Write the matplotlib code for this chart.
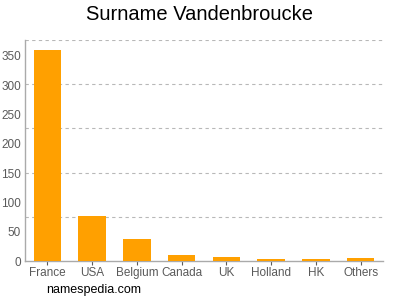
import matplotlib
matplotlib.use("Agg")
import matplotlib.pyplot as plt

plt.rcParams["font.family"] = ["Liberation Sans", "DejaVu Sans"]

countries = ["France", "USA", "Belgium", "Canada", "UK", "Holland", "HK", "Others"]
counts = [360, 77, 37, 11, 7, 4, 3, 5]
yticks = [0, 50, 100, 150, 200, 250, 300, 350]
grid_levels = [75.4, 150.8, 226.2, 301.6, 377]

fig = plt.figure(figsize=(4, 3), dpi=100)
ax = fig.add_axes([25 / 400, 1 - 261 / 300, 358 / 400, 221 / 300])

ax.bar(range(len(countries)), counts, width=0.62, color="#ffa000", zorder=3)
for g in grid_levels:
    ax.axhline(g, color="#b8b8b8", linestyle=(0, (3, 3)), linewidth=0.8, zorder=1)

ax.set_xlim(-0.5, len(countries) - 0.5)
ax.set_ylim(0, 377)
ax.set_xticks(range(len(countries)), countries)
ax.set_yticks(yticks)
ax.tick_params(axis="both", labelsize=8.5, colors="#5a5a5a", length=3, width=0.8)
ax.tick_params(axis="x", pad=1.5)
ax.tick_params(axis="y", length=0, pad=3)
for side in ("top", "right"):
    ax.spines[side].set_visible(False)
for side in ("left", "bottom"):
    ax.spines[side].set_color("#aaaaaa")
    ax.spines[side].set_linewidth(1)

fig.text(0.5, 1 - 14 / 300, "Surname Vandenbroucke", ha="center", va="center", fontsize=14.5)
fig.text(46 / 400, 1 - 290 / 300, "namespedia.com", ha="left", va="center", fontsize=9)

fig.savefig("out.png", dpi=100)
